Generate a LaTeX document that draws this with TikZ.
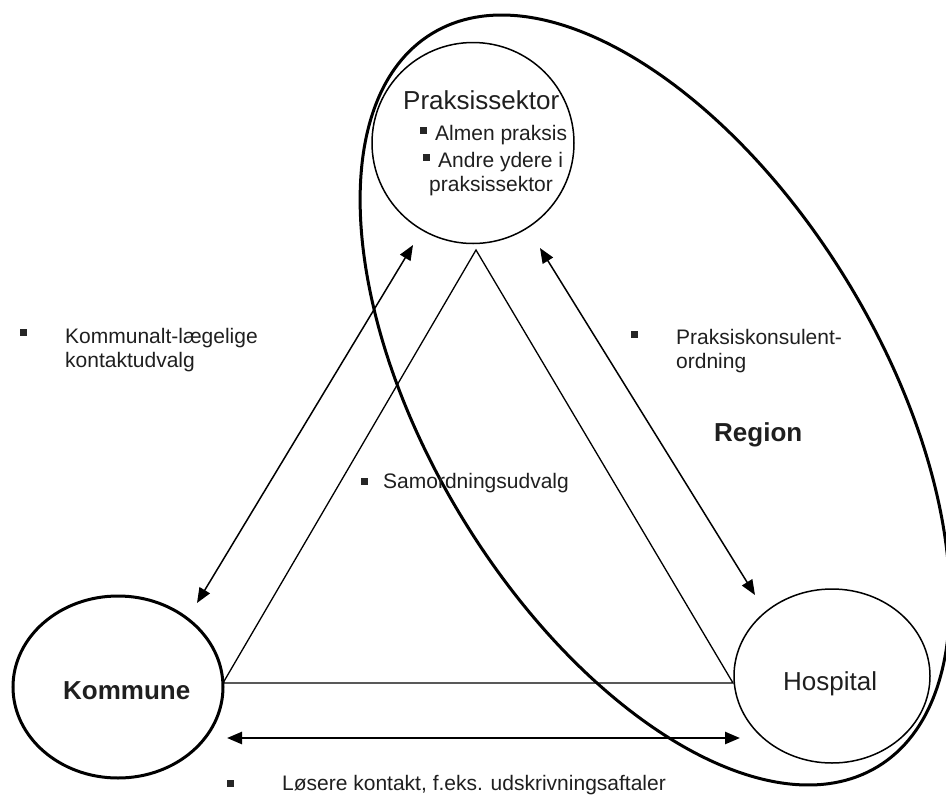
\documentclass[tikz,border=0pt]{standalone}
\usepackage{fontspec}
\setmainfont{Liberation Sans}
\usetikzlibrary{arrows.meta,shapes.geometric}

\begin{document}
\begin{tikzpicture}[x=1pt,y=-1pt,>={Triangle[length=15pt,width=12pt]},
  sector/.style={ellipse,draw,inner sep=0pt},
  lbl/.style={font=\fontsize{21}{24}\selectfont,text=black!88,inner sep=0pt,anchor=base west},
  big/.style={font=\fontsize{26}{30}\selectfont,text=black!88,inner sep=0pt,anchor=base west},
  blt/.style={fill=black!85,minimum size=7pt,inner sep=0pt}]

  \useasboundingbox (0,0) rectangle (946,796);

  % the three sectors and the region
  \node[sector,line width=3pt,rotate=-58.7,minimum width=858pt,minimum height=452pt] (region) at (655,400) {};
  \node[sector,line width=1.5pt,minimum width=202pt,minimum height=201pt] (praksis) at (473,143) {};
  \node[sector,line width=3pt,minimum width=210pt,minimum height=182pt] (kommune) at (118,687) {};
  \node[sector,line width=1.5pt,minimum width=196pt,minimum height=174pt] (hospital) at (832,676) {};

  % texts in the circles
  \node[big] (praksistitle) at (403,109) {Praksissektor};
  \node[blt] (b1) at (423,130) {};
  \node[lbl] (almen) at (435,140) {Almen praksis};
  \node[blt] (b2) at (426,157) {};
  \node[lbl] (andre) at (438,167) {Andre ydere i};
  \node[lbl] (andre2) at (429,191) {praksissektor};
  \node[big,font=\fontsize{26}{30}\selectfont\bfseries] (kommunetitle) at (63,699) {Kommune};
  \node[big] (hospitaltitle) at (783,690) {Hospital};
  \node[big,font=\fontsize{26}{30}\selectfont\bfseries] (regiontitle) at (714,441) {Region};

  % triangle
  \coordinate (apex) at (476,250);
  \coordinate (kcorner) at (223,683);
  \coordinate (hcorner) at (733,683);
  \draw[line width=1.3pt] (apex) -- (kcorner) -- (hcorner) -- cycle;

  % arrows
  \coordinate (pk) at (413,245);
  \coordinate (kp) at (197,603);
  \coordinate (ph) at (540,248);
  \coordinate (hp) at (755,595);
  \coordinate (kh) at (227,738);
  \coordinate (hk) at (740,738);
  \draw[<->,line width=1.5pt] (pk) -- (kp);
  \draw[<->,line width=1.5pt] (ph) -- (hp);
  \draw[<->,line width=2.5pt] (kh) -- (hk);

  % labels of the links
  \node[blt] (b3) at (23,332) {};
  \node[lbl] (kontakt) at (65,343) {Kommunalt-lægelige};
  \node[lbl] (kontakt2) at (65,367) {kontaktudvalg};
  \node[blt] (b4) at (634,334) {};
  \node[lbl] (konsulent) at (676,344) {Praksiskonsulent-};
  \node[lbl] (konsulent2) at (676,368) {ordning};
  \node[blt] (b5) at (364,481) {};
  \node[lbl] (samordning) at (383,488) {Samordningsudvalg};
  \node[blt] (b6) at (230,783) {};
  \node[lbl] (loesere) at (282,790) {Løsere kontakt, f.eks. udskrivningsaftaler};
\end{tikzpicture}
\end{document}
